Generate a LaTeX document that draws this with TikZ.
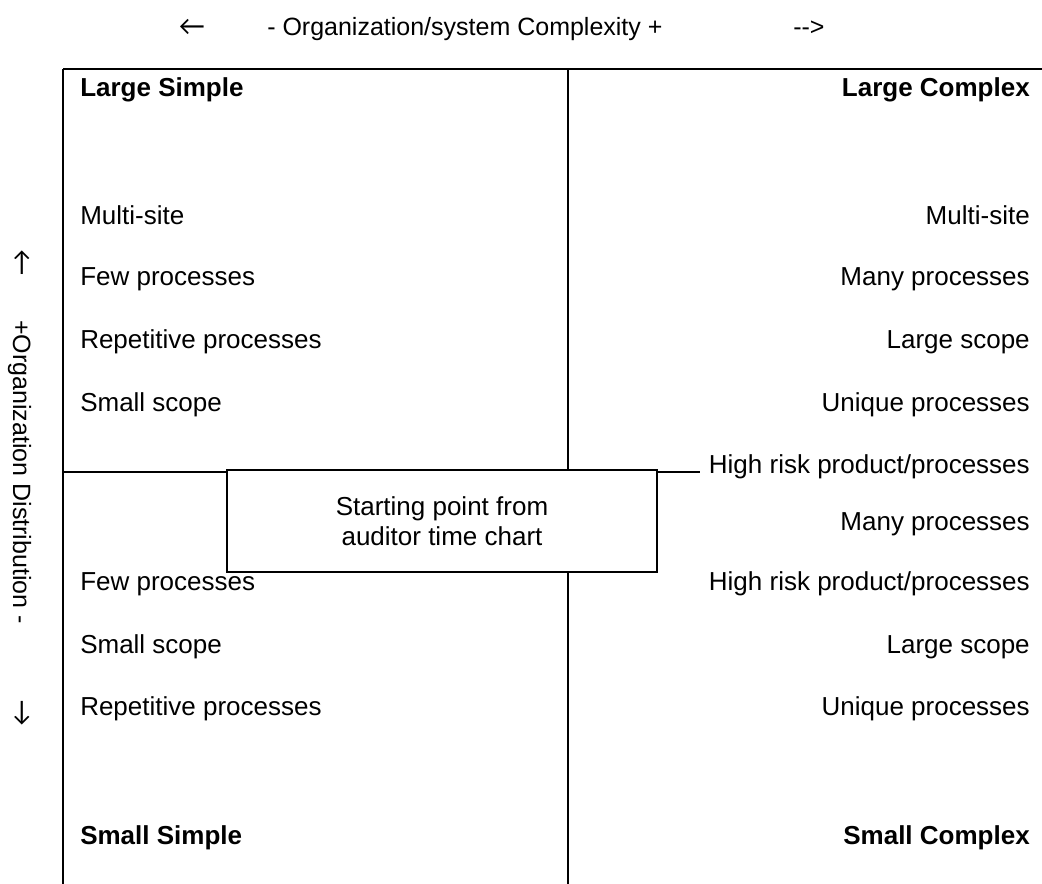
\documentclass[tikz,border=0pt]{standalone}
\usepackage{fontspec}
\setmainfont[Ligatures=TeXOff]{Liberation Sans}
\newfontfamily\arrowfont{Lato}
\usepackage{tikz}

\begin{document}
\begin{tikzpicture}[x=0.75pt,y=-0.75pt]
\tikzstyle{every node}+=[inner sep=0pt]
\tikzstyle{txt}=[font=\fontsize{19.5}{22.5}\selectfont]
\tikzstyle{axistxt}=[font=\fontsize{18.75}{22}\selectfont]
\tikzstyle{arrowtxt}=[font=\arrowfont\fontsize{20}{22}\selectfont,anchor=center]
\tikzstyle{lefttxt}=[txt,anchor=base west]
\tikzstyle{righttxt}=[txt,anchor=base east]
\tikzstyle{gridline}=[black,line width=1.2pt]
\useasboundingbox (0,0) rectangle (1042,884);
% grid
\coordinate (topL) at (63,69);
\coordinate (topM) at (568,69);
\coordinate (topR) at (1042,69);
\coordinate (midL) at (63,472);
\coordinate (midR) at (700,472);
\coordinate (botL) at (63,884);
\coordinate (botM) at (568,884);
\draw [gridline] (topL) -- (topR);
\draw [gridline] (topL) -- (botL);
\draw [gridline] (topM) -- (botM);
\draw [gridline] (midL) -- (midR);
% axis labels
\node (cplxL) [arrowtxt] at (192,27) {←};
\node (cplx) [axistxt,anchor=base west] at (267,36) {- Organization/system Complexity +};
\node (cplxR) [axistxt,anchor=base west] at (793,36) {-->};
\node (distU) [arrowtxt] at (22,263) {↑};
\node (dist) [axistxt,anchor=base,rotate=-90] at (13,472) {+Organization Distribution -};
\node (distD) [arrowtxt] at (22,713) {↓};
% large simple
\node (ls) [lefttxt,font=\fontsize{19.5}{22.5}\selectfont\bfseries] at (80,97) {Large Simple};
\node (ls1) [lefttxt] at (80,225) {Multi-site};
\node (ls2) [lefttxt] at (80,286) {Few processes};
\node (ls3) [lefttxt] at (80,348) {Repetitive processes};
\node (ls4) [lefttxt] at (80,411) {Small scope};
% large complex
\node (lc) [righttxt,font=\fontsize{19.5}{22.5}\selectfont\bfseries] at (1030,97) {Large Complex};
\node (lc1) [righttxt] at (1030,225) {Multi-site};
\node (lc2) [righttxt] at (1030,286) {Many processes};
\node (lc3) [righttxt] at (1030,348) {Large scope};
\node (lc4) [righttxt] at (1030,411) {Unique processes};
\node (lc5) [righttxt] at (1030,473) {High risk product/processes};
% small simple
\node (ss1) [lefttxt] at (80,590) {Few processes};
\node (ss2) [lefttxt] at (80,653) {Small scope};
\node (ss3) [lefttxt] at (80,715) {Repetitive processes};
\node (ss) [lefttxt,font=\fontsize{19.5}{22.5}\selectfont\bfseries] at (80,844) {Small Simple};
% small complex
\node (sc1) [righttxt] at (1030,530) {Many processes};
\node (sc2) [righttxt] at (1030,590) {High risk product/processes};
\node (sc3) [righttxt] at (1030,653) {Large scope};
\node (sc4) [righttxt] at (1030,715) {Unique processes};
\node (sc) [righttxt,font=\fontsize{19.5}{22.5}\selectfont\bfseries] at (1030,844) {Small Complex};
% centre box
\node (start) [txt,draw,fill=white,line width=1.2pt,align=center,minimum width=322.5pt,minimum height=76.5pt] at (442,521) {Starting point from\\auditor time chart};
\end{tikzpicture}
\end{document}
